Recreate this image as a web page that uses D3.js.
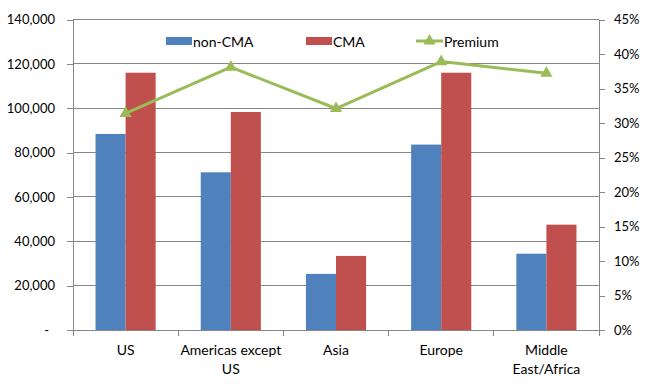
<!DOCTYPE html>
<html>
<head>
<meta charset="utf-8">
<script src="https://cdn.jsdelivr.net/npm/d3@7"></script>
<style>
  body { margin: 0; background: #fff; }
  svg text { font-family: Lato, "Open Sans", sans-serif; font-size: 13px; fill: #000; }
</style>
</head>
<body>
<svg id="chart" width="650" height="390"></svg>
<script>
// data
const regions = ["US", "Americas except US", "Asia", "Europe", "Middle East/Africa"];
const regionLines = [["US"], ["Americas except", "US"], ["Asia"], ["Europe"], ["Middle", "East/Africa"]];
const nonCMA = [88400, 71100, 25300, 83600, 34400];
const cma = [116000, 98300, 33400, 116000, 47500];
const premium = [0.314, 0.381, 0.321, 0.389, 0.372];
const leftTicks = [0, 20000, 40000, 60000, 80000, 100000, 120000, 140000];
const rightTicks = [0, 0.05, 0.10, 0.15, 0.20, 0.25, 0.30, 0.35, 0.40, 0.45];

const svg = d3.select("svg#chart");
const margin = { left: 73, right: 51, top: 19.5, bottom: 60 };
const width = 650 - margin.left - margin.right;
const height = 390 - margin.top - margin.bottom;

const colors = { "non-CMA": "#4F81BD", "CMA": "#C0504D", "Premium": "#9BBB59" };

let g = svg.append("g").attr("transform", `translate(${margin.left},${margin.top})`);

const x0 = d3.scaleBand().domain(regions).range([0, width]).padding(0);
const x1 = d3.scaleBand().domain(["non-CMA", "CMA"]).range([0, x0.bandwidth()])
    .paddingInner(0).paddingOuter(0.75);
const yLeft = d3.scaleLinear().domain([0, 140000]).range([height, 0]);
const yRight = d3.scaleLinear().domain([0, 0.45]).range([height, 0]);

// gridlines
g.append("g")
    .selectAll("line")
    .data(leftTicks.filter(d => d > 0))
    .join("line")
    .attr("x1", 0).attr("x2", width)
    .attr("y1", d => yLeft(d)).attr("y2", d => yLeft(d))
    .attr("stroke", "#868686").attr("stroke-width", 1)
    .attr("shape-rendering", "crispEdges");

// left axis
let leftAxis = d3.axisLeft(yLeft).tickValues(leftTicks).tickSize(6).tickPadding(12)
    .tickFormat(d => d === 0 ? "-" : d3.format(",")(d));
let la = g.append("g").call(leftAxis);
la.select(".domain").attr("stroke", "#868686").attr("shape-rendering", "crispEdges");
la.selectAll(".tick line").attr("stroke", "#868686").attr("shape-rendering", "crispEdges");
la.selectAll(".tick text").style("font-size", "13px")
    .attr("dx", d => d === 0 ? -6 : 0);

// right axis
let rightAxis = d3.axisRight(yRight).tickValues(rightTicks).tickSize(6).tickPadding(9)
    .tickFormat(d3.format(".0%"));
let ra = g.append("g").attr("transform", `translate(${width},0)`).call(rightAxis);
ra.select(".domain").attr("stroke", "#868686").attr("shape-rendering", "crispEdges");
ra.selectAll(".tick line").attr("stroke", "#868686").attr("shape-rendering", "crispEdges");
ra.selectAll(".tick text").style("font-size", "13px");

// bars
const barData = regions.map((r, i) => ({ region: r, vals: [["non-CMA", nonCMA[i]], ["CMA", cma[i]]] }));
g.append("g")
    .selectAll("g")
    .data(barData)
    .join("g")
    .attr("transform", d => `translate(${x0(d.region)},0)`)
    .selectAll("rect")
    .data(d => d.vals)
    .join("rect")
    .attr("x", d => x1(d[0]))
    .attr("y", d => yLeft(d[1]))
    .attr("width", x1.bandwidth())
    .attr("height", d => yLeft(0) - yLeft(d[1]))
    .attr("fill", d => colors[d[0]]);

// x axis
let bottom = g.append("g").attr("transform", `translate(0,${height})`);
bottom.append("line").attr("x1", 0).attr("x2", width)
    .attr("stroke", "#868686").attr("shape-rendering", "crispEdges");
bottom.selectAll("line.tk")
    .data(d3.range(regions.length + 1))
    .join("line")
    .attr("class", "tk")
    .attr("x1", i => i * x0.step()).attr("x2", i => i * x0.step())
    .attr("y1", 0).attr("y2", 6)
    .attr("stroke", "#868686").attr("shape-rendering", "crispEdges");
bottom.selectAll("text")
    .data(regions)
    .join("text")
    .attr("text-anchor", "middle")
    .style("font-size", "14px")
    .attr("x", d => x0(d) + x0.bandwidth() / 2)
    .attr("y", 25)
    .each(function (d, i) {
        d3.select(this).selectAll("tspan")
            .data(regionLines[i])
            .join("tspan")
            .attr("x", x0(d) + x0.bandwidth() / 2)
            .attr("dy", (t, j) => j === 0 ? 0 : 19)
            .text(t => t);
    });

// premium line
const cx = r => x0(r) + x0.bandwidth() / 2;
g.append("path")
    .datum(premium)
    .attr("d", d3.line().x((d, i) => cx(regions[i])).y(d => yRight(d)))
    .attr("fill", "none")
    .attr("stroke", colors["Premium"])
    .attr("stroke-width", 3)
    .attr("stroke-linejoin", "round");
const tri = d3.symbol().type(d3.symbolTriangle).size(65);
g.append("g")
    .selectAll("path")
    .data(premium)
    .join("path")
    .attr("d", tri)
    .attr("transform", (d, i) => `translate(${cx(regions[i])},${yRight(d)})`)
    .attr("fill", colors["Premium"]);

// legend
let legend = svg.append("g");
const legendItems = [
    { name: "non-CMA", x: 166 },
    { name: "CMA", x: 306 },
    { name: "Premium", x: 416 }
];
legendItems.forEach(item => {
    if (item.name === "Premium") {
        legend.append("line")
            .attr("x1", item.x).attr("x2", item.x + 27)
            .attr("y1", 41).attr("y2", 41)
            .attr("stroke", colors[item.name]).attr("stroke-width", 3);
        legend.append("path")
            .attr("d", tri)
            .attr("transform", `translate(${item.x + 13.5},41)`)
            .attr("fill", colors[item.name]);
        legend.append("text").text(item.name)
            .attr("x", item.x + 28).attr("y", 41)
            .style("font-size", "14px")
            .attr("dominant-baseline", "central");
    } else {
        legend.append("rect")
            .attr("x", item.x).attr("y", 37)
            .attr("width", 26).attr("height", 8)
            .attr("fill", colors[item.name]);
        legend.append("text").text(item.name)
            .attr("x", item.x + 27).attr("y", 41)
            .style("font-size", "14px")
            .attr("dominant-baseline", "central");
    }
});
</script>
</body>
</html>
